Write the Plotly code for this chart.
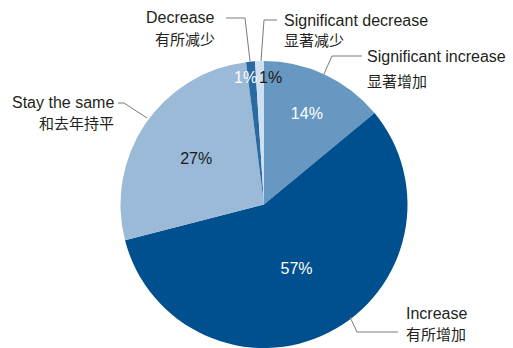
import plotly.graph_objects as go

W, H = 513, 348

labels_en = ["Significant increase", "Increase", "Stay the same", "Decrease", "Significant decrease"]
labels_zh = ["显著增加", "有所增加", "和去年持平", "有所减少", "显著减少"]
values = [14, 57, 27, 1, 1]
pct_text = ["14%", "57%", "27%", "1%", "1%"]
colors = ["#6798c1", "#00508f", "#9bbad7", "#2a6aa3", "#cddff0"]
text_colors = ["#ffffff", "#ffffff", "#1a1a1a", "#ffffff", "#1a1a1a"]
text_pos = ["inside", "inside", "inside", "none", "none"]

FONT = "Liberation Sans, Arial, sans-serif"
CJK = "Noto Sans CJK SC, sans-serif"
INK = "#231f20"
LINE = "#7a7a7a"

def px(x):
    return x / W

def py(y):
    return 1 - y / H

fig = go.Figure(go.Pie(
    labels=labels_en,
    values=values,
    text=pct_text,
    texttemplate="%{text}",
    textposition=text_pos,
    insidetextorientation="horizontal",
    insidetextfont=dict(color=text_colors, size=16, family=FONT),
    marker=dict(colors=colors, line=dict(width=0)),
    sort=False,
    direction="clockwise",
    rotation=0,
    showlegend=False,
    hoverinfo="label+percent",
    domain=dict(x=[120 / W, 408 / W], y=[0, 1 - 61 / H]),
))

# outside labels: (english x, english y, zh y, anchor)
label_pos = [
    (365, 57, 81, "left"),     # Significant increase
    (404, 313, 333, "left"),   # Increase
    (116, 102, 122, "right"),  # Stay the same
    (217, 18, 38, "right"),    # Decrease
    (282, 20, 40, "left"),     # Significant decrease
]
leaders = [
    [(324, 74), (332, 56), (362, 56)],
    [(350, 317), (357, 332), (398, 332)],
    [(147, 118), (124, 103), (118, 103)],
    [(250, 61), (245, 18), (226, 18)],
    [(261, 61), (264, 20), (277, 20)],
]

annotations = []
shapes = []
for i in range(len(labels_en)):
    x, ye, yz, anc = label_pos[i]
    annotations.append(dict(x=px(x), y=py(ye), xref="paper", yref="paper", text=labels_en[i],
                            showarrow=False, xanchor=anc, yanchor="middle",
                            font=dict(family=FONT, size=16, color=INK)))
    annotations.append(dict(x=px(x), y=py(yz), xref="paper", yref="paper", text=labels_zh[i],
                            showarrow=False, xanchor=anc, yanchor="middle",
                            font=dict(family=CJK, size=15, color=INK)))
    pts = leaders[i]
    path = "M " + " L ".join(f"{px(a):.5f},{py(b):.5f}" for a, b in pts)
    shapes.append(dict(type="path", xref="paper", yref="paper", path=path,
                       line=dict(color=LINE, width=1)))

# percentage labels for the two tiny slices
small = [(3, 245, 77), (4, 270, 77)]
for i, x, y in small:
    annotations.append(dict(x=px(x), y=py(y), xref="paper", yref="paper", text=pct_text[i],
                            showarrow=False, xanchor="center", yanchor="middle",
                            font=dict(family=FONT, size=16, color=text_colors[i])))

fig.update_layout(
    width=W, height=H,
    margin=dict(l=0, r=0, t=0, b=0),
    paper_bgcolor="white", plot_bgcolor="white",
    annotations=annotations, shapes=shapes,
)

fig.write_html("out.html", config={"displayModeBar": False},
               post_script="document.body.style.margin='0px';document.body.style.overflow='hidden';")
